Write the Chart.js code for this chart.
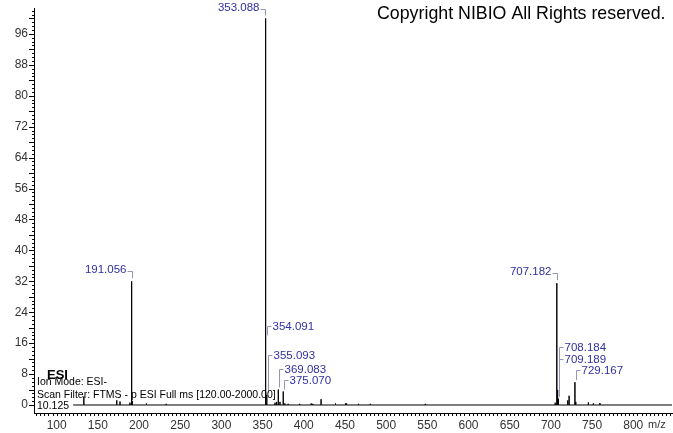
<!DOCTYPE html>
<html>
<head>
<meta charset="utf-8">
<script src="https://cdn.jsdelivr.net/npm/chart.js@4"></script>
<style>
  body { margin: 0; background: #fff; }
  #wrap { width: 673px; height: 433px; position: relative; }
</style>
</head>
<body>
<div id="wrap"><canvas id="spectrum"></canvas></div>
<script>
// peak list (m/z, relative abundance %)
const peakMz = [133.0, 173.0, 176.9, 189.0, 191.056, 192.06, 209.0, 233.0,
    353.088, 354.091, 355.093, 365.1, 367.0, 369.083, 371.1, 375.070, 377.0, 381.0,
    395.0, 409.0, 411.0, 421.0, 438.5, 450.6, 452.0, 466.5, 480.7, 547.5,
    705.2, 707.182, 708.184, 709.189, 720.5, 722.1, 729.167, 730.2, 745.5, 751.5, 759.5];
const peakIntensity = [2.2, 1.2, 0.9, 0.6, 32.0, 1.0, 0.4, 0.3,
    100, 17.5, 2.6, 0.6, 0.8, 4.0, 0.8, 3.5, 0.4, 0.3,
    0.3, 0.4, 0.3, 1.5, 0.4, 0.4, 0.4, 0.3, 0.3, 0.3,
    0.6, 31.5, 3.9, 1.6, 1.2, 2.4, 5.9, 0.8, 0.7, 0.4, 0.5];

// labelled peaks
const labelMz = [191.056, 353.088, 354.091, 355.093, 369.083, 375.070, 707.182, 708.184, 709.189, 729.167];

// scan range of the acquisition
const scanRange = [120, 2000];

// axis ticks
const yLabelTicks = [0, 8, 16, 24, 32, 40, 48, 56, 64, 72, 80, 88, 96];
const xLabelTicks = [100, 150, 200, 250, 300, 350, 400, 450, 500, 550, 600, 650, 700, 750, 800];

// where each label sits relative to its peak (pixels)
const labelLayout = {
    '191.056': { side: 'left', lift: 12 },
    '353.088': { side: 'left', lift: 11 },
    '354.091': { side: 'right', lift: 11.5 },
    '355.093': { side: 'right', lift: 40 },
    '369.083': { side: 'right', lift: 21 },
    '375.070': { side: 'right', lift: 11 },
    '707.182': { side: 'left', lift: 12 },
    '708.184': { side: 'right', lift: 43 },
    '709.189': { side: 'right', lift: 40 },
    '729.167': { side: 'right', lift: 12 }
};

const FONT = "'Liberation Sans', Arial, sans-serif";

// stick spectrum: every peak goes up and back down to the baseline
const stickData = [{ x: scanRange[0], y: 0 }];
peakMz.forEach((m, i) => {
    stickData.push({ x: m, y: 0 }, { x: m, y: peakIntensity[i] }, { x: m, y: 0 });
});
stickData.push({ x: scanRange[1], y: 0 });

// minor ticks on both axes
const minorTicks = {
    id: 'minorTicks',
    afterDraw(chart) {
        const { ctx, scales: { x, y }, chartArea } = chart;
        ctx.save();
        ctx.strokeStyle = '#000';
        ctx.lineWidth = 1;
        ctx.beginPath();
        for (let v = 0; v <= y.max; v += 1) {
            const py = Math.round(y.getPixelForValue(v)) + 0.5;
            const len = v % 4 === 0 ? 5 : 2;
            ctx.moveTo(chartArea.left - len, py);
            ctx.lineTo(chartArea.left, py);
        }
        for (let v = Math.ceil(x.min / 5) * 5; v <= x.max; v += 5) {
            const px = Math.round(x.getPixelForValue(v)) + 0.5;
            ctx.moveTo(px, chartArea.bottom);
            ctx.lineTo(px, chartArea.bottom + 3);
        }
        ctx.stroke();
        ctx.restore();
    }
};

// peak labels with bracket lines
const peakLabels = {
    id: 'peakLabels',
    afterDatasetsDraw(chart) {
        const { ctx, scales: { x, y } } = chart;
        ctx.save();
        ctx.font = '11.5px ' + FONT;
        ctx.textBaseline = 'middle';
        labelMz.forEach(m => {
            const idx = peakMz.indexOf(m);
            const txt = m.toFixed(3);
            const lay = labelLayout[txt];
            const px = Math.round(x.getPixelForValue(m)) + 0.5;
            const top = y.getPixelForValue(peakIntensity[idx]);
            const ty = Math.round(top - lay.lift) + 0.5;
            ctx.strokeStyle = '#9696b4';
            ctx.lineWidth = 1;
            ctx.beginPath();
            if (lay.side === 'left') {
                ctx.moveTo(px - 5, ty + 2);
                ctx.lineTo(px, ty + 2);
                ctx.lineTo(px, top - 3);
                ctx.stroke();
                ctx.fillStyle = '#3030a0';
                ctx.textAlign = 'right';
                ctx.fillText(txt, px - 6, ty);
            } else {
                ctx.moveTo(px + 5, ty);
                ctx.lineTo(px + 1, ty);
                ctx.lineTo(px + 1, top - 2);
                ctx.stroke();
                ctx.fillStyle = '#3030a0';
                ctx.textAlign = 'left';
                ctx.fillText(txt, px + 6, ty);
            }
        });
        ctx.restore();
    }
};

// header / info text
const infoText = {
    id: 'infoText',
    afterDraw(chart) {
        const { ctx } = chart;
        ctx.save();
        ctx.fillStyle = '#000';
        ctx.textBaseline = 'middle';
        ctx.textAlign = 'left';
        ctx.font = '17.8px ' + FONT;
        ctx.fillText('Copyright NIBIO All Rights reserved.', 377, 14);
        ctx.font = 'bold 13px ' + FONT;
        ctx.fillText('ESI', 47, 375);
        ctx.font = '10.5px ' + FONT;
        ctx.fillText('Ion Mode: ESI-', 37, 382);
        ctx.fillText('Scan Filter: FTMS - p ESI Full ms [120.00-2000.00]', 37, 395);
        ctx.fillText('10.125', 37, 406);
        ctx.fillStyle = '#333';
        ctx.font = '11px ' + FONT;
        ctx.fillText('m/z', 648, 425);
        ctx.restore();
    }
};

new Chart(document.getElementById('spectrum'), {
    type: 'line',
    data: {
        datasets: [{
            data: stickData,
            borderColor: '#000',
            borderWidth: 1,
            pointRadius: 0,
            tension: 0
        }]
    },
    options: {
        responsive: true,
        maintainAspectRatio: false,
        animation: false,
        layout: { padding: { top: 8, right: 1, left: 0, bottom: 0 } },
        plugins: {
            legend: { display: false },
            tooltip: { enabled: false }
        },
        scales: {
            x: {
                type: 'linear',
                min: 72.5,
                max: 847,
                afterFit: s => { s.height = 20; s.paddingLeft = 0; s.paddingRight = 0; },
                afterBuildTicks: s => { s.ticks = xLabelTicks.map(v => ({ value: v })); },
                grid: { display: false, drawTicks: false },
                border: { display: true, color: '#000', width: 1 },
                ticks: {
                    padding: 5,
                    maxRotation: 0,
                    autoSkip: false,
                    color: '#333',
                    font: { family: FONT, size: 12 }
                }
            },
            y: {
                min: -2.07,
                max: 102.7,
                afterFit: s => { s.width = 34; s.paddingTop = 0; s.paddingBottom = 0; },
                afterBuildTicks: s => { s.ticks = yLabelTicks.map(v => ({ value: v })); },
                grid: { display: false, drawTicks: false },
                border: { display: true, color: '#000', width: 1 },
                ticks: {
                    padding: 6,
                    autoSkip: false,
                    color: '#333',
                    font: { family: FONT, size: 12 }
                }
            }
        }
    },
    plugins: [minorTicks, peakLabels, infoText]
});
</script>
</body>
</html>
